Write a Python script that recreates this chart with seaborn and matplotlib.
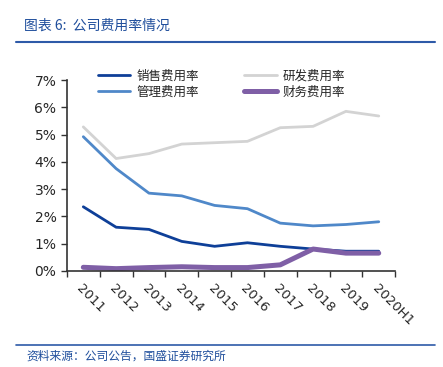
import numpy as np
import pandas as pd
import matplotlib
matplotlib.use("Agg")
import matplotlib.pyplot as plt
import seaborn as sns
from matplotlib.lines import Line2D
from matplotlib.ticker import FixedLocator, PercentFormatter

# chart data (percent)
years = ["2011", "2012", "2013", "2014", "2015", "2016", "2017", "2018", "2019", "2020H1"]
sales_rate = [2.35, 1.60, 1.52, 1.08, 0.90, 1.03, 0.90, 0.80, 0.72, 0.72]
rnd_rate = [5.28, 4.12, 4.30, 4.65, 4.70, 4.75, 5.25, 5.30, 5.85, 5.68]
admin_rate = [4.92, 3.75, 2.85, 2.75, 2.40, 2.28, 1.75, 1.65, 1.70, 1.80]
fin_rate = [0.13, 0.08, 0.12, 0.15, 0.12, 0.12, 0.22, 0.80, 0.65, 0.65]

# order: legend fills column-wise
series = [
    ("销售费用率", sales_rate, "#0E3F98", 2.0),
    ("管理费用率", admin_rate, "#4F88C9", 2.0),
    ("研发费用率", rnd_rate, "#D3D3D3", 2.0),
    ("财务费用率", fin_rate, "#7F5FA6", 3.6),
]

sns.set_style("white")
plt.rcParams["font.family"] = ["Noto Sans CJK SC", "DejaVu Sans"]

fig = plt.figure(figsize=(4.43, 3.67), dpi=100)
ax = fig.add_axes([0.151, 0.262, 0.741, 0.520])

x = np.arange(len(years))
handles = []
for name, vals, color, lw in series:
    df = pd.DataFrame({"x": x, "v": vals})
    sns.lineplot(data=df, x="x", y="v", ax=ax, color=color, linewidth=lw, legend=False)
    handles.append(Line2D([0], [0], color=color, linewidth=lw, label=name))

ax.set_xlim(-0.5, len(years) - 0.5)
ax.set_ylim(0, 7)
ax.set_xlabel("")
ax.set_ylabel("")
ax.yaxis.set_major_formatter(PercentFormatter(decimals=0))
ax.set_yticks(range(0, 8))
ax.set_xticks(x)
ax.set_xticklabels(years, rotation=-45, ha="left", va="top", rotation_mode="anchor",
                   fontsize=9.5, family=["DejaVu Sans"])
ax.xaxis.set_minor_locator(FixedLocator(np.arange(-0.5, len(years), 1.0)))
ax.tick_params(axis="x", which="major", length=0, pad=8)
ax.tick_params(axis="x", which="minor", length=4, width=1, color="#333333", bottom=True)
ax.tick_params(axis="y", length=4, width=1, color="#333333", left=True, labelsize=10)
for lab in ax.get_yticklabels():
    lab.set_family(["DejaVu Sans"])

for s in ["top", "right"]:
    ax.spines[s].set_visible(False)
for s in ["left", "bottom"]:
    ax.spines[s].set_color("#333333")
    ax.spines[s].set_linewidth(1.2)

ax.legend(handles=handles, ncol=2, frameon=False, loc="upper left",
          bbox_to_anchor=(0.06, 1.115), fontsize=9, handlelength=2.6,
          columnspacing=3.6, labelspacing=0.25, handletextpad=0.5)

# header and footer
fig.text(0.055, 0.918, "图表 6:  公司费用率情况", color="#1F4E9C", fontsize=10,
         style="italic")
fig.add_artist(Line2D([0.036, 0.982], [0.886, 0.886], color="#2E5AA8", linewidth=1.5))
fig.add_artist(Line2D([0.036, 0.982], [0.060, 0.060], color="#2E5AA8", linewidth=1.2))
fig.text(0.06, 0.020, "资料来源：公司公告，国盛证券研究所", color="#1F4E9C", fontsize=8.5,
         style="italic")

fig.savefig("out.png", dpi=100)
